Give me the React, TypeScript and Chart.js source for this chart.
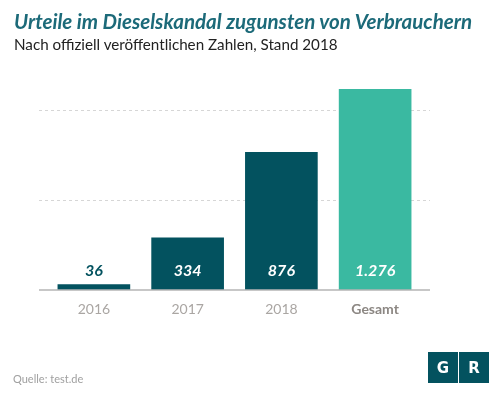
import React, { useEffect, useRef } from "react";
import { Chart, registerables } from "chart.js";

Chart.register(...registerables);

const categories = ["2016", "2017", "2018", "Gesamt"];
const values = [36, 334, 876, 1276];
const valueLabels = ["36", "334", "876", "1.276"];
const barColors = ["#03525f", "#03525f", "#03525f", "#3ab9a1"];
const gridValues = [571, 1143];
const yMax = 1714;

const title = "Urteile im Dieselskandal zugunsten von Verbrauchern";
const subtitle = "Nach offiziell veröffentlichen Zahlen, Stand 2018";
const source = "Quelle: test.de";

const FONT = "Lato, 'Open Sans', sans-serif";

const decorPlugin = {
  id: "decor",
  beforeDatasetsDraw(chart: any) {
    const { ctx, chartArea, scales } = chart;
    const y = scales.y;
    const left = chartArea.left - 8;
    const right = chartArea.right + 8;
    ctx.save();
    ctx.strokeStyle = "#d6d6d6";
    ctx.lineWidth = 1;
    ctx.setLineDash([3, 3]);
    for (const v of gridValues) {
      const py = Math.round(y.getPixelForValue(v)) + 0.5;
      ctx.beginPath();
      ctx.moveTo(left, py);
      ctx.lineTo(right, py);
      ctx.stroke();
    }
    ctx.restore();
  },
  afterDatasetsDraw(chart: any) {
    const { ctx, chartArea, scales } = chart;
    const y = scales.y;
    const left = chartArea.left - 8;
    const right = chartArea.right + 8;
    const base = y.getPixelForValue(0);
    ctx.save();
    ctx.strokeStyle = "#b4b4b4";
    ctx.lineWidth = 1.5;
    ctx.beginPath();
    ctx.moveTo(left, base);
    ctx.lineTo(right, base);
    ctx.stroke();
    const meta = chart.getDatasetMeta(0);
    ctx.font = "italic bold 16px " + FONT;
    ctx.textAlign = "center";
    ctx.textBaseline = "middle";
    meta.data.forEach((bar: any, i: number) => {
      const ly = base - 19;
      const inside = bar.y < ly - 12;
      ctx.fillStyle = inside ? "#ffffff" : barColors[i];
      ctx.fillText(valueLabels[i], bar.x, ly);
    });
    ctx.restore();
  },
};

export default function App() {
  const ref = useRef<HTMLCanvasElement>(null);
  useEffect(() => {
    document.body.style.margin = "0";
    const chart = new Chart(ref.current!, {
      type: "bar",
      data: {
        labels: categories,
        datasets: [
          {
            data: values,
            backgroundColor: barColors,
            categoryPercentage: 1,
            barPercentage: 0.775,
          },
        ],
      },
      options: {
        animation: false,
        responsive: false,
        layout: { padding: { left: 47, right: 78, top: 20, bottom: 74 } },
        plugins: { legend: { display: false }, tooltip: { enabled: false } },
        scales: {
          x: {
            grid: { display: false },
            border: { display: false },
            afterFit: (s: any) => {
              s.height = 30;
            },
            ticks: {
              padding: 3,
              color: (c: any) => (c.index === 3 ? "#8c8783" : "#aaa6a3"),
              font: (c: any) => ({
                family: FONT,
                size: 14,
                weight: c.index === 3 ? "bold" : "normal",
              }),
            },
          },
          y: {
            display: false,
            min: 0,
            max: yMax,
          },
        },
      },
      plugins: [decorPlugin],
    });
    return () => chart.destroy();
  }, []);

  return (
    <div style={{ position: "relative", width: 500, height: 394, background: "#fff", overflow: "hidden" }}>
      <canvas ref={ref} width={500} height={394} style={{ position: "absolute", left: 0, top: 0 }} />
      <div
        style={{
          position: "absolute",
          left: 14,
          top: 9,
          fontFamily: FONT,
          fontStyle: "italic",
          fontWeight: "bold",
          fontSize: 20.5,
          color: "#1c6a79",
          whiteSpace: "nowrap",
          lineHeight: "24px",
        }}
      >
        {title}
      </div>
      <div
        style={{
          position: "absolute",
          left: 14,
          top: 34,
          fontFamily: FONT,
          fontSize: 15.2,
          color: "#222",
          whiteSpace: "nowrap",
          lineHeight: "20px",
        }}
      >
        {subtitle}
      </div>
      <div
        style={{
          position: "absolute",
          left: 13,
          top: 372,
          fontFamily: FONT,
          fontSize: 11,
          color: "#a0a0a0",
          whiteSpace: "nowrap",
          lineHeight: "14px",
        }}
      >
        {source}
      </div>
      <div style={{ position: "absolute", left: 428, top: 352, display: "flex", gap: 1 }}>
        {["G", "R"].map((l) => (
          <div
            key={l}
            style={{
              width: 30,
              height: 31,
              background: "#03525f",
              color: "#fff",
              fontFamily: "'DejaVu Sans', sans-serif",
              fontWeight: "bold",
              fontSize: 15,
              display: "flex",
              alignItems: "center",
              justifyContent: "center",
            }}
          >
            {l}
          </div>
        ))}
      </div>
    </div>
  );
}
